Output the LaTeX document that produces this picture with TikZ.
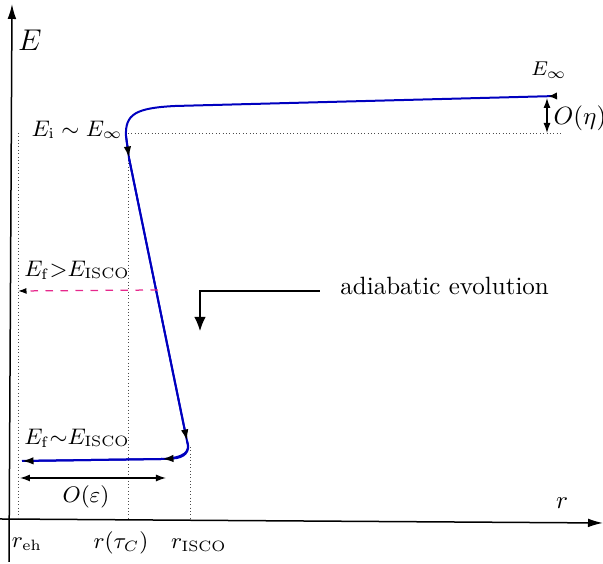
\documentclass[tikz,border=0pt]{standalone}
\usetikzlibrary{arrows.meta}
\begin{document}
\begin{tikzpicture}[x=0.4pt,y=-0.4pt,
  axis/.style={line width=0.6pt,-{Latex[length=6pt,width=3.5pt]}},
  bl/.style={blue!75!black,line width=0.8pt},
  tip/.style={-{Latex[black,length=4.6pt,width=3pt]}},
  dots/.style={densely dotted,line width=0.35pt,black!70},
  dbl/.style={line width=0.5pt,{Latex[length=4pt,width=2.8pt]}-{Latex[length=4pt,width=2.8pt]}},
  lbl/.style={inner sep=0pt}]
\useasboundingbox (0,0) rectangle (603,564);
% axes
\coordinate (yb) at (9,562);
\coordinate (yt) at (12,4);
\coordinate (xl) at (0,519);
\coordinate (xr) at (603,523);
\draw[axis] (yb) -- (yt);
\draw[axis] (xl) -- (xr);
\node[lbl] (E) at (30,40) {\large $E$};
\node[lbl] (r) at (562,503) {$r$};
% dotted guides
\coordinate (d1t) at (18,133); \coordinate (d1b) at (18,520);
\coordinate (d2t) at (128,150); \coordinate (d2b) at (128,520);
\coordinate (d3t) at (190,447); \coordinate (d3b) at (190,520);
\coordinate (h1) at (128,133); \coordinate (h2) at (563,133);
\draw[dots] (d1t) -- (d1b);
\draw[dots] (d2t) -- (d2b);
\draw[dots] (d3t) -- (d3b);
\draw[dots] (h1) -- (h2);
% blue curve
\coordinate (s) at (557,96);
\coordinate (a) at (175,106);
\coordinate (c1) at (126,136);
\coordinate (m1) at (129,158);
\coordinate (b) at (187,441);
\coordinate (c2) at (162,459);
\coordinate (e) at (22,461);
\draw[bl,{Latex[black,reversed,length=3.6pt,width=3pt]}-]
  (s) -- (a) .. controls (136,108) and (125,114) .. (c1) -- (m1) -- (b)
  .. controls (191,452) and (184,458) .. (c2) -- (e);
\draw[bl,tip] (c1) -- (m1);
\draw[bl,tip] (m1) -- (b);
\draw[bl,tip] (b) .. controls (191,452) and (184,458) .. (c2);
\draw[bl,tip] (c2) -- (e);
% pink dashed
\coordinate (p1) at (158,290);
\coordinate (p2) at (18,291);
\draw[dashed,line width=0.5pt,color={rgb,255:red,230;green,40;blue,140},-{Latex[black,length=3.4pt,width=2.4pt]}] (p1) -- (p2);
% adiabatic arrow
\node[lbl,anchor=west] (ad) at (340,286) {adiabatic evolution};
\coordinate (q1) at (320,291);
\coordinate (q2) at (200,291);
\coordinate (q3) at (200,331);
\draw[line width=0.5pt,-{Latex[length=5.6pt,width=4.6pt]}] (q1) -- (q2) -- (q3);
% O(eta)
\coordinate (o1) at (547,98); \coordinate (o2) at (547,133);
\draw[dbl] (o1) -- (o2);
\node[lbl] (Oeta) at (580,118) {$O(\eta)$};
\node[lbl] (Einf) at (549,70) {\footnotesize $E_\infty$};
% O(eps)
\coordinate (e1) at (20,478); \coordinate (e2) at (166,478);
\draw[dbl] (e1) -- (e2);
\node[lbl] (Oeps) at (86,497) {\small $O(\varepsilon)$};
% labels
\node[lbl] (Ei) at (77,130) {\small $E_{\rm i}\sim E_\infty$};
\node[lbl] (Ef1) at (77,270) {\small $E_{\rm f}{>}E_{\rm ISCO}$};
\node[lbl] (Ef2) at (77,438) {\small $E_{\rm f}{\sim}E_{\rm ISCO}$};
\node[lbl] (reh) at (27,544) {\small $r_{\rm eh}$};
\node[lbl] (rtau) at (121,543) {\small $r(\tau_C)$};
\node[lbl] (risco) at (199,545) {\small $r_{\rm ISCO}$};
\end{tikzpicture}
\end{document}
